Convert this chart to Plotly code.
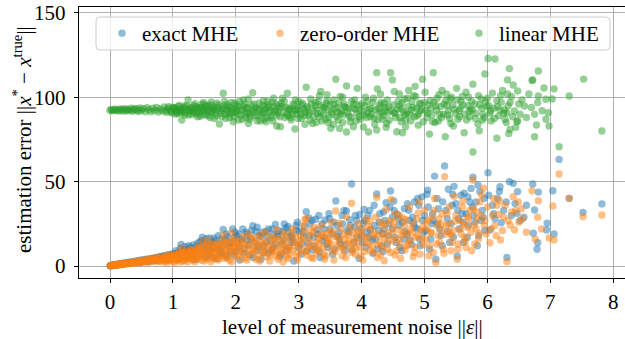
import plotly.graph_objects as go

# ---- data (noise level ||eps||, estimation error) ----
exact_pts = [
    (0.0,0.2),(0.02,0.3),(0.04,0.5),(0.06,0.4),(0.08,0.8),(0.1,0.6),(0.12,1.0),(0.14,0.9),(0.16,1.2),(0.18,1.1),
    (0.2,1.5),(0.22,1.3),(0.25,1.8),(0.28,1.6),(0.3,2.2),(0.33,1.9),(0.36,2.5),(0.4,2.1),(0.42,3.0),(0.45,2.6),
    (0.48,3.4),(0.5,2.4),(0.53,3.8),(0.56,3.1),(0.6,4.1),(0.63,3.3),(0.66,4.5),(0.7,3.6),(0.73,5.0),(0.76,4.0),
    (0.8,5.6),(0.83,4.2),(0.86,6.0),(0.9,4.8),(0.93,6.5),(0.96,5.2),(1.0,7.0),(1.03,5.5),(1.06,7.6),(1.1,4.3),
    (1.13,12.8),(1.15,8.2),(1.18,6.0),(1.2,9.3),(1.23,5.1),(1.26,10.0),(1.3,7.5),(1.33,3.8),(1.36,11.0),(1.4,8.4),
    (1.43,14.5),(1.47,17.0),(1.5,9.8),(1.52,5.0),(1.55,12.5),(1.58,16.6),(1.6,7.2),(1.63,14.0),(1.66,10.8),(1.7,4.5),
    (1.73,13.0),(1.76,9.0),(1.8,21.7),(1.83,15.5),(1.86,6.0),(1.9,11.8),(1.95,21.9),(1.98,17.0),(2.0,8.5),(2.03,13.5),
    (2.06,3.5),(2.1,16.0),(2.14,10.0),(2.18,19.0),(2.22,6.5),(2.27,23.9),(2.3,14.0),(2.33,9.0),(2.37,18.0),(2.4,4.0),
    (2.44,12.0),(2.48,20.5),(2.52,7.5),(2.56,15.0),(2.6,10.5),(2.63,24.7),(2.66,17.5),(2.7,5.5),(2.74,13.0),(2.77,24.9),
    (2.8,9.0),(2.84,19.5),(2.88,15.0),(2.92,3.0),(2.96,21.0),(3.0,11.0),(3.04,7.0),(3.08,17.0),(3.12,32.2),(3.15,13.5),
    (3.18,25.0),(3.22,9.5),(3.27,27.7),(3.3,19.0),(3.34,5.0),(3.38,15.0),(3.42,27.3),(3.46,11.0),(3.5,22.0),(3.54,7.0),
    (3.59,38.5),(3.62,17.5),(3.66,13.0),(3.7,25.0),(3.74,9.0),(3.76,32.6),(3.8,20.0),(3.84,48.6),(3.88,14.0),(3.92,27.0),
    (3.96,4.5),(4.0,18.0),(4.03,25.7),(4.07,11.0),(4.1,30.0),(4.14,21.5),(4.18,7.5),(4.22,16.0),(4.24,42.7),(4.28,26.0),
    (4.32,12.0),(4.34,8.5),(4.36,22.0),(4.39,37.5),(4.42,18.0),(4.46,44.5),(4.49,29.0),(4.52,32.8),(4.55,14.0),(4.6,24.0),
    (4.64,9.0),(4.68,34.0),(4.72,19.0),(4.76,27.0),(4.8,12.5),(4.84,38.0),(4.88,22.0),(4.92,16.0),(4.96,41.0),(5.0,30.0),
    (5.04,42.5),(5.08,10.0),(5.12,25.0),(5.16,53.3),(5.18,4.0),(5.22,34.0),(5.26,18.0),(5.32,59.3),(5.36,28.0),(5.4,14.0),
    (5.44,36.0),(5.47,47.2),(5.52,5.9),(5.55,22.0),(5.6,31.0),(5.63,43.2),(5.68,17.0),(5.72,38.0),(5.77,52.6),(5.8,26.0),
    (5.84,12.0),(5.88,44.1),(5.92,33.0),(5.96,21.0),(6.01,55.3),(6.04,21.3),(6.08,36.0),(6.12,28.0),(6.16,40.0),(6.19,44.2),
    (6.22,25.7),(6.26,33.0),(6.31,5.1),(6.35,50.0),(6.41,49.0),(6.44,37.0),(6.48,44.1),(6.47,31.2),(6.52,27.0),(6.58,28.9),
    (6.62,36.0),(6.72,48.6),(6.73,19.4),(6.75,33.2),(6.79,9.9),(6.8,13.8),(6.81,43.8),(6.94,21.3),(6.95,25.3),(7.04,44.6),
    (7.06,19.0),(7.14,63.2),(7.3,40.1),(7.52,31.8),(7.82,36.8),
    (0.01,0.1),(0.03,0.4),(0.05,0.3),(0.07,0.7),(0.09,0.5),(0.11,0.9),(0.13,0.8),(0.15,1.1),(0.17,1.3),(0.19,1.0),
    (0.21,1.6),(0.24,1.4),(0.27,2.0),(0.31,1.7),(0.35,2.4),(0.39,2.2),(0.44,2.9),(0.47,2.1),(0.51,3.3),(0.55,2.8),
    (0.58,4.0),(0.62,2.6),(0.65,4.4),(0.69,3.0),(0.72,4.9),(0.75,3.4),(0.79,5.3),(0.82,3.8),(0.85,5.9),(0.88,3.2),
    (0.92,6.4),(0.95,4.0),(0.98,7.0),
    (1.01,5.0),(1.04,7.5),(1.08,4.0),(1.11,8.5),(1.14,6.0),(1.17,9.5),(1.21,4.5),(1.24,8.0),(1.28,11.0),(1.31,6.0),
    (1.35,9.5),(1.38,4.0),(1.41,12.0),(1.45,7.0),(1.48,10.5),(1.51,14.0),(1.54,6.0),(1.57,9.0),(1.6,12.5),(1.64,5.0),
    (1.67,15.0),(1.7,10.0),(1.74,7.5),(1.77,16.0),(1.8,12.0),(1.84,5.5),(1.87,17.5),(1.91,9.0),(1.94,13.5),(1.97,6.5),
    (2.01,18.0),(2.05,11.0),(2.08,15.5),(2.12,7.5),(2.16,20.0),(2.2,12.5),(2.24,16.5),(2.28,5.0),(2.32,20.5),(2.36,11.5),
    (2.4,17.5),(2.44,8.0),(2.48,14.0),(2.52,22.0),(2.56,9.5),(2.6,18.5),(2.64,13.0),(2.68,21.0),(2.72,7.0),(2.76,16.0),
    (2.8,22.5),(2.84,11.0),(2.88,18.0),(2.92,14.0),(2.96,24.0),
    (3.01,20.5),(3.05,13.0),(3.09,23.5),(3.13,9.0),(3.17,18.0),(3.21,27.0),(3.25,12.0),(3.29,21.5),(3.33,8.5),(3.37,25.0),
    (3.41,17.0),(3.45,13.0),(3.49,28.0),(3.53,19.0),(3.57,10.0),(3.61,24.0),(3.65,16.0),(3.69,30.0),(3.73,12.5),(3.77,21.0),
    (3.81,27.5),(3.85,9.5),(3.89,23.0),(3.93,17.0),(3.97,30.5),
    (4.01,14.0),(4.05,27.0),(4.09,20.0),(4.13,33.0),(4.17,15.5),(4.21,24.0),(4.25,10.0),(4.29,31.0),(4.33,19.0),(4.37,27.0),
    (4.41,13.0),(4.45,35.0),(4.49,22.0),(4.53,17.0),(4.57,30.5),(4.61,11.0),(4.65,26.0),(4.69,20.5),(4.73,37.0),(4.77,15.5),
    (4.81,29.0),(4.85,23.0),(4.89,40.0),(4.93,12.0),(4.97,27.0),
    (5.02,21.0),(5.06,35.0),(5.1,16.0),(5.14,27.0),(5.2,40.0),(5.24,22.0),(5.28,12.0),(5.34,33.0),(5.38,45.5),(5.42,25.0),
    (5.46,17.0),(5.5,37.0),(5.54,28.0),(5.58,42.0),(5.62,14.0),(5.66,31.0),(5.7,24.0),(5.74,46.0),(5.78,30.0),(5.82,38.0),
    (5.86,18.0),(5.9,27.0),(5.95,40.0),
    (1.05,9.0),(1.12,10.5),(1.19,11.5),(1.25,12.0),(1.32,12.5),(1.39,13.5),(1.46,15.0),(1.53,16.0),(1.6,10.0),(1.65,16.5),
    (1.72,18.0),(1.78,8.0),(1.85,19.0),(1.9,14.0),(1.99,20.0),(2.04,19.0),(2.11,22.0),(2.19,15.5),(2.25,21.0),(2.34,23.0),
    (2.42,20.0),(2.5,18.0),(2.58,22.0),(2.67,19.0),(2.75,20.5),(2.83,23.5),(2.9,17.0),(2.98,26.0),(3.07,20.0),(3.16,28.5),
    (3.24,17.0),(3.32,30.0),(3.4,22.0),(3.48,31.0),(3.56,26.0),(3.64,20.0),(3.72,33.0),(3.82,24.0),(3.9,30.0),(3.99,22.0),
    (4.04,33.5),(4.12,17.0),(4.2,36.0),(4.27,21.0),(4.35,32.0),(4.43,25.0),(4.51,38.5),(4.59,28.0),(4.67,16.0),(4.75,33.0),
    (4.83,25.5),(4.91,36.0),(4.99,20.0),(5.05,45.0),(5.13,31.0),(5.21,25.0),(5.29,38.0),(5.37,20.5),(5.45,42.5),(5.53,33.0),
    (5.61,26.0),(5.69,41.0),(5.76,35.0),(5.85,48.0),(5.93,29.0),(6.02,42.0),(6.1,31.0),(6.2,47.0),(6.3,38.0),(6.38,30.0),
]

zero_order_pts = [
    (0.0,0.1),(0.01,0.3),(0.03,0.2),(0.05,0.5),(0.07,0.4),(0.09,0.7),(0.11,0.5),(0.13,0.9),(0.15,0.8),(0.17,1.1),
    (0.19,0.9),(0.21,1.3),(0.24,1.1),(0.26,1.6),(0.29,1.4),(0.31,2.0),(0.34,1.6),(0.37,2.3),(0.39,1.8),(0.41,2.7),
    (0.44,2.2),(0.47,3.0),(0.49,2.0),(0.52,3.4),(0.55,2.6),(0.58,3.8),(0.61,2.9),(0.64,4.2),(0.67,3.2),(0.69,4.6),
    (0.72,3.5),(0.75,5.0),(0.78,3.0),(0.81,5.4),(0.84,4.0),(0.87,5.8),(0.89,3.5),(0.92,6.2),(0.95,4.4),(0.98,6.6),
    (1.01,3.0),(1.04,7.0),(1.07,5.0),(1.1,8.0),(1.12,2.5),(1.14,10.5),(1.17,6.5),(1.2,4.0),(1.22,8.8),(1.25,6.0),
    (1.28,10.0),(1.31,3.5),(1.34,9.0),(1.38,6.5),(1.41,12.0),(1.44,8.0),(1.47,14.5),(1.5,5.0),(1.53,11.0),(1.56,15.5),
    (1.59,7.5),(1.62,13.0),(1.65,4.0),(1.68,10.0),(1.71,14.0),(1.74,6.5),(1.78,12.0),(1.8,18.4),(1.84,9.0),(1.87,14.5),
    (1.9,3.5),(1.94,19.7),(1.97,11.5),(2.0,16.0),(2.04,7.0),(2.08,13.0),(2.12,17.5),(2.16,5.0),(2.2,19.0),(2.24,10.0),
    (2.28,15.0),(2.32,4.0),(2.35,12.5),(2.39,18.5),(2.43,8.0),(2.47,20.0),(2.5,14.0),(2.54,3.0),(2.58,11.0),(2.62,17.0),
    (2.65,21.5),(2.69,7.0),(2.73,14.5),(2.76,19.5),(2.8,10.0),(2.83,4.5),(2.87,16.0),(2.91,22.0),(2.95,12.0),(2.99,8.0),
    (3.03,18.0),(3.07,24.0),(3.1,27.7),(3.12,27.9),(3.16,14.0),(3.2,5.0),(3.24,20.0),(3.28,10.0),(3.32,16.5),(3.36,24.0),
    (3.4,7.0),(3.44,19.0),(3.48,13.0),(3.52,26.0),(3.56,3.5),(3.59,32.6),(3.63,17.0),(3.67,22.0),(3.71,9.5),(3.76,29.2),
    (3.8,15.0),(3.84,37.2),(3.87,20.0),(3.91,11.0),(3.95,25.0),(3.99,6.0),(4.03,17.5),(4.07,28.0),(4.11,13.0),(4.15,22.0),
    (4.19,8.0),(4.24,40.7),(4.27,18.0),(4.3,26.0),(4.33,11.0),(4.36,3.1),(4.39,33.6),(4.43,20.0),(4.47,39.5),(4.5,15.0),
    (4.52,26.3),(4.56,9.0),(4.6,30.0),(4.64,18.0),(4.68,24.0),(4.72,12.0),(4.76,35.0),(4.8,20.0),(4.84,8.0),(4.88,28.0),
    (4.92,38.0),(4.96,16.0),(5.0,33.0),(5.04,22.0),(5.08,12.0),(5.12,29.0),(5.16,40.0),(5.18,2.0),(5.22,18.0),(5.26,25.0),
    (5.3,10.0),(5.32,53.0),(5.36,31.0),(5.4,20.0),(5.44,14.0),(5.47,41.3),(5.52,4.0),(5.56,27.0),(5.6,35.0),(5.64,17.0),
    (5.68,23.0),(5.72,33.0),(5.77,51.0),(5.8,13.0),(5.84,28.0),(5.88,38.0),(5.94,46.1),(5.98,19.0),(6.04,13.8),(6.08,30.0),
    (6.12,24.0),(6.15,36.0),(6.19,38.9),(6.21,15.4),(6.26,29.0),(6.31,2.6),(6.36,24.3),(6.41,41.1),(6.45,33.0),(6.5,26.0),
    (6.56,28.0),(6.62,20.0),(6.71,44.6),(6.76,16.0),(6.8,28.9),(6.81,38.7),(6.86,22.0),(6.98,16.6),(7.04,35.6),(7.06,15.4),
    (7.14,54.5),(7.3,40.1),(7.52,29.2),(7.82,30.2),
    (0.02,0.2),(0.04,0.4),(0.06,0.6),(0.08,0.5),(0.1,0.8),(0.12,0.7),(0.14,1.0),(0.16,1.2),(0.18,1.0),(0.2,1.4),
    (0.23,1.2),(0.27,1.8),(0.32,1.5),(0.35,2.2),(0.38,2.0),(0.43,2.5),(0.46,1.9),(0.5,3.0),(0.54,2.3),(0.57,3.5),
    (0.6,2.0),(0.63,3.9),(0.66,2.7),(0.7,4.2),(0.74,2.5),(0.77,4.6),(0.8,3.3),(0.85,5.0),(0.88,2.8),(0.91,5.5),
    (0.94,3.6),(0.97,6.0),(0.99,4.8),
    (1.02,6.0),(1.05,3.5),(1.09,7.0),(1.13,5.5),(1.16,8.5),(1.19,3.0),(1.23,7.0),(1.27,5.0),(1.3,9.0),(1.33,6.8),
    (1.36,4.5),(1.39,10.5),(1.42,6.0),(1.46,9.5),(1.49,3.0),(1.52,8.0),(1.55,13.0),(1.58,5.5),(1.61,10.0),(1.64,7.0),
    (1.67,12.5),(1.7,8.5),(1.73,4.5),(1.77,11.0),(1.8,7.0),(1.83,13.5),(1.86,5.0),(1.89,9.5),(1.92,15.0),(1.96,7.5),
    (1.99,12.0),
    (2.02,10.0),(2.05,14.5),(2.09,4.0),(2.13,9.0),(2.17,12.5),(2.21,7.0),(2.25,16.5),(2.29,9.5),(2.33,13.5),(2.37,6.0),
    (2.41,15.5),(2.45,11.0),(2.49,5.5),(2.53,17.5),(2.57,8.5),(2.61,13.0),(2.64,6.0),(2.68,16.0),(2.72,10.0),(2.75,2.5),
    (2.79,18.0),(2.82,12.0),(2.86,7.0),(2.89,20.0),(2.93,14.0),(2.97,5.5),
    (3.01,14.5),(3.05,9.0),(3.09,20.5),(3.13,6.5),(3.17,17.0),(3.21,11.5),(3.25,23.0),(3.29,7.5),(3.33,13.0),(3.37,19.0),
    (3.41,4.0),(3.45,15.5),(3.49,21.0),(3.53,9.0),(3.57,17.5),(3.61,12.0),(3.65,25.5),(3.69,6.0),(3.73,19.0),(3.77,13.0),
    (3.81,23.0),(3.85,8.0),(3.89,16.5),(3.93,20.5),(3.97,11.0),
    (4.01,22.0),(4.05,8.5),(4.09,17.0),(4.13,26.5),(4.17,12.0),(4.21,19.5),(4.25,5.0),(4.29,14.0),(4.33,23.5),(4.37,16.5),
    (4.41,10.0),(4.45,27.0),(4.49,18.5),(4.53,6.5),(4.57,21.5),(4.61,13.0),(4.65,28.5),(4.69,9.5),(4.73,19.0),(4.77,15.0),
    (4.81,25.0),(4.85,11.0),(4.89,18.0),(4.93,7.0),(4.97,23.0),
    (5.02,16.0),(5.06,27.0),(5.1,20.0),(5.14,8.0),(5.2,24.0),(5.24,14.0),(5.28,31.0),(5.34,19.0),(5.38,25.0),(5.42,9.0),
    (5.46,21.0),(5.5,30.0),(5.54,13.0),(5.58,19.0),(5.62,25.0),(5.66,11.0),(5.7,28.0),(5.74,20.0),(5.78,34.0),(5.82,22.0),
    (5.86,16.0),(5.9,30.0),(5.95,24.0),
    (0.82,2.5),(0.86,4.5),(0.9,2.0),(0.93,5.0),(0.96,3.0),(1.0,5.5),(1.03,2.0),(1.06,6.0),(1.08,3.5),(1.11,6.5),
    (1.15,3.0),(1.18,7.5),(1.21,5.5),(1.24,2.5),(1.26,8.0),(1.29,4.5),(1.32,7.0),(1.35,2.5),(1.37,8.5),(1.4,5.0),
    (1.43,10.0),(1.45,3.5),(1.48,7.0),(1.51,11.5),(1.54,4.0),(1.57,8.5),(1.6,2.5),(1.63,10.5),(1.66,6.0),(1.69,12.0),
    (1.72,3.5),(1.75,9.0),(1.79,14.5),(1.82,4.5),(1.85,10.5),(1.88,7.0),(1.91,12.5),(1.93,2.5),(1.95,9.0),(1.98,14.0),
    (2.01,5.5),(2.06,11.5),(2.1,8.5),(2.14,14.0),(2.18,3.5),(2.23,12.0),(2.27,7.5),(2.31,17.0),(2.34,10.0),(2.38,3.0),
    (2.42,13.0),(2.46,8.5),(2.51,11.5),(2.55,6.5),(2.59,15.5),(2.63,9.0),(2.67,4.0),(2.71,12.0),(2.74,8.0),(2.78,15.0),
    (2.81,6.0),(2.85,11.0),(2.9,9.0),(2.94,17.5),(2.98,3.5),(3.02,12.5),(3.06,16.0),(3.11,8.5),(3.15,11.0),(3.19,21.0),
    (3.23,4.5),(3.27,14.0),(3.31,9.5),(3.35,18.0),(3.39,11.0),(3.43,6.0),(3.47,16.5),(3.51,13.5),(3.55,20.0),(3.58,8.5),
    (3.64,14.5),(3.68,11.0),(3.72,16.0),(3.75,5.0),(3.79,18.5),(3.83,10.5),(3.86,13.5),(3.9,7.0),(3.94,15.0),(3.98,19.5),
    (4.02,3.5),(4.06,14.0),(4.1,24.0),(4.14,9.0),(4.18,18.0),(4.22,29.0),(4.26,12.5),(4.3,6.5),(4.34,19.0),(4.38,25.0),
    (4.42,14.5),(4.46,8.0),(4.5,23.0),(4.54,31.0),(4.58,16.0),(4.62,4.5),(4.66,20.0),(4.7,27.5),(4.74,13.0),(4.78,22.0),
    (4.82,5.5),(4.86,17.0),(4.9,31.5),(4.94,21.0),(4.98,12.5),(5.03,26.0),(5.07,6.0),(5.11,19.5),(5.15,33.0),(5.19,13.0),
    (5.23,28.0),(5.27,21.5),(5.31,7.5),(5.35,24.0),(5.39,35.0),(5.43,18.0),(5.48,26.5),(5.53,10.0),(5.57,22.0),(5.61,38.5),
    (5.65,15.0),(5.69,29.0),(5.75,9.0),(5.79,24.0),(5.83,32.0),(5.87,19.5),(5.91,42.0),(5.96,27.0),(6.0,35.0),(6.06,22.0),
    (6.1,40.0),(6.14,18.0),(6.18,30.5),(6.24,21.0),(6.28,36.0),(6.33,27.0),(6.39,32.0),(6.43,21.5),(6.49,38.0),(6.54,34.0),
]

linear_pts = [
    (0.0,92.3),(0.02,92.8),(0.04,92.0),(0.06,92.5),(0.08,93.0),(0.1,92.2),(0.12,92.7),(0.14,91.9),(0.16,93.1),(0.18,92.4),
    (0.2,92.9),(0.22,91.8),(0.24,93.3),(0.26,92.5),(0.28,92.0),(0.3,93.0),(0.32,92.3),(0.34,93.5),(0.36,91.7),(0.38,92.8),
    (0.4,93.4),(0.42,92.1),(0.44,93.0),(0.46,91.6),(0.48,93.7),(0.5,92.4),(0.53,93.2),(0.56,91.5),(0.59,93.9),(0.62,92.6),
    (0.65,91.4),(0.68,93.5),(0.71,92.2),(0.74,94.0),(0.77,91.3),(0.8,93.1),(0.83,92.0),(0.86,94.3),(0.89,91.1),(0.92,93.6),
    (0.95,92.5),(0.98,90.8),(1.0,94.2),(1.03,92.7),(1.06,91.0),(1.09,94.6),(1.12,92.0),(1.14,86.5),(1.17,93.8),(1.2,90.5),
    (1.24,98.4),(1.27,92.5),(1.3,89.8),(1.33,95.0),(1.36,91.5),(1.4,93.8),(1.43,88.8),(1.46,96.0),(1.5,91.8),(1.53,94.5),
    (1.56,89.0),(1.6,95.5),(1.63,92.2),(1.66,87.5),(1.7,96.5),(1.74,84.2),(1.77,93.0),(1.8,102.4),(1.83,90.0),(1.86,95.8),
    (1.9,88.0),(1.93,97.0),(1.96,85.5),(2.0,93.5),(2.03,90.5),(2.06,97.5),(2.1,87.0),(2.13,94.5),(2.17,91.0),(2.2,99.0),
    (2.23,88.5),(2.27,102.7),(2.3,93.0),(2.34,86.0),(2.37,96.5),(2.4,90.0),(2.44,98.0),(2.48,85.5),(2.51,93.8),(2.55,89.0),
    (2.58,97.0),(2.62,91.5),(2.65,83.0),(2.68,95.0),(2.71,82.6),(2.74,99.5),(2.78,88.0),(2.82,102.4),(2.85,92.5),(2.88,86.5),
    (2.91,96.0),(2.94,81.2),(2.97,90.0),(3.0,97.5),(3.04,87.5),(3.08,93.0),(3.12,106.0),(3.15,89.5),(3.19,99.0),(3.22,84.5),
    (3.26,95.0),(3.3,90.5),(3.33,101.0),(3.37,86.0),(3.41,94.0),(3.45,98.0),(3.48,88.0),(3.51,81.6),(3.55,96.0),(3.59,110.7),
    (3.62,91.0),(3.66,100.5),(3.7,85.0),(3.73,94.5),(3.76,79.4),(3.76,106.7),(3.8,89.0),(3.84,97.5),(3.87,82.6),(3.9,93.0),
    (3.93,105.3),(3.96,88.5),(4.0,96.0),(4.03,82.4),(4.06,100.0),(4.1,91.0),(4.11,79.4),(4.14,88.5),(4.18,97.0),(4.21,84.0),
    (4.24,114.6),(4.24,80.6),(4.27,93.5),(4.3,102.0),(4.33,87.0),(4.36,96.5),(4.39,82.2),(4.42,91.0),(4.46,114.6),(4.49,110.3),
    (4.52,103.4),(4.54,88.0),(4.56,79.6),(4.6,95.0),(4.63,85.5),(4.65,79.0),(4.68,99.0),(4.72,90.5),(4.75,104.0),(4.78,86.0),
    (4.82,94.0),(4.86,100.5),(4.9,83.5),(4.93,92.0),(4.97,110.7),(5.0,97.0),(5.04,88.0),(5.08,78.2),(5.1,93.5),(5.14,114.6),
    (5.17,85.0),(5.2,99.5),(5.24,90.0),(5.28,104.0),(5.33,76.6),(5.36,95.0),(5.4,87.5),(5.43,100.0),(5.46,83.0),(5.51,105.3),
    (5.55,92.0),(5.58,97.5),(5.63,79.0),(5.67,86.5),(5.7,100.0),(5.73,93.0),(5.77,107.8),(5.77,67.6),(5.8,96.0),(5.85,84.2),
    (5.87,80.2),(5.9,99.0),(5.93,90.0),(5.96,113.8),(5.99,94.5),(6.01,123.0),(6.04,90.5),(6.08,102.5),(6.12,122.7),(6.15,75.7),
    (6.15,98.0),(6.2,92.5),(6.24,104.0),(6.28,87.0),(6.32,110.3),(6.32,102.0),(6.31,90.9),(6.34,78.6),(6.35,117.0),(6.36,96.9),
    (6.36,81.0),(6.41,107.3),(6.43,91.9),(6.45,82.2),(6.47,85.5),(6.48,103.7),(6.48,86.0),(6.59,94.8),(6.71,110.0),(6.72,110.3),
    (6.75,89.9),(6.75,76.6),(6.78,83.6),(6.8,96.9),(6.81,100.8),(6.81,115.6),(6.93,98.8),(6.93,87.0),(6.97,90.9),(6.98,83.0),
    (7.03,99.0),(7.06,105.0),(7.14,70.7),(7.3,100.8),(7.53,110.8),(7.82,80.0),
    (1.01,93.5),(1.05,92.0),(1.08,90.5),(1.11,93.0),(1.15,91.5),(1.18,94.8),(1.21,92.8),(1.25,89.5),(1.28,94.0),(1.31,92.0),
    (1.35,96.2),(1.38,90.2),(1.41,92.8),(1.45,93.5),(1.48,89.5),(1.51,95.5),(1.55,92.5),(1.58,91.0),(1.61,97.2),(1.65,93.2),
    (1.68,90.5),(1.71,94.0),(1.75,92.0),(1.78,88.5),(1.81,95.0),(1.85,92.8),(1.88,90.8),(1.91,94.2),(1.95,91.5),(1.98,96.5),
    (2.01,92.0),(2.04,94.5),(2.07,89.5),(2.11,92.8),(2.14,96.0),(2.16,88.0),(2.19,93.5),(2.21,90.5),(2.25,95.5),(2.28,91.0),
    (2.32,93.8),(2.35,89.0),(2.38,92.5),(2.42,95.0),(2.45,90.5),(2.47,93.0),(2.5,97.5),(2.53,91.5),(2.57,88.0),(2.6,94.5),
    (2.63,92.0),(2.66,89.5),(2.7,93.5),(2.72,96.5),(2.76,91.0),(2.8,94.0),(2.83,89.0),(2.86,92.8),(2.9,90.0),(2.93,95.0),
    (2.96,92.5),(2.99,87.5),(2.45,86.8),(2.6,99.5),(2.2,84.5),
    (3.02,92.0),(3.05,95.5),(3.09,89.0),(3.13,93.5),(3.17,91.0),(3.2,96.0),(3.24,88.5),(3.28,93.0),(3.31,97.5),(3.35,90.5),
    (3.39,94.0),(3.43,87.0),(3.46,92.5),(3.5,95.5),(3.53,90.0),(3.57,93.0),(3.6,88.5),(3.64,96.5),(3.68,92.0),(3.71,89.5),
    (3.75,94.0),(3.78,91.0),(3.82,85.5),(3.86,93.5),(3.89,98.5),(3.92,90.5),(3.95,95.0),(3.98,87.0),(3.35,103.5),(3.55,84.0),
    (3.7,100.0),(3.1,84.0),(3.45,101.5),(3.65,81.5),(3.28,85.0),
    (4.02,91.5),(4.05,95.0),(4.08,88.0),(4.12,93.0),(4.16,90.0),(4.19,99.5),(4.22,92.5),(4.26,87.0),(4.29,95.5),(4.32,91.0),
    (4.35,89.0),(4.38,94.0),(4.41,98.5),(4.44,86.5),(4.47,92.0),(4.5,95.5),(4.53,90.5),(4.57,93.0),(4.61,88.0),(4.64,96.5),
    (4.67,91.5),(4.7,86.5),(4.74,94.5),(4.77,90.0),(4.8,97.5),(4.84,88.5),(4.87,93.5),(4.91,90.0),(4.94,96.0),(4.98,85.5),
    (4.25,105.0),(4.6,102.0),(4.85,106.5),(4.4,84.5),(4.7,82.5),
    (5.02,92.0),(5.06,95.5),(5.12,89.5),(5.15,97.0),(5.19,92.5),(5.22,86.0),(5.26,94.5),(5.3,90.0),(5.34,98.0),(5.38,92.0),
    (5.42,84.5),(5.45,95.5),(5.49,90.5),(5.53,87.0),(5.57,93.5),(5.6,100.5),(5.64,90.0),(5.69,95.0),(5.72,88.5),(5.76,92.5),
    (5.82,90.5),(5.88,95.5),(5.92,86.5),(5.97,97.5),(5.35,102.0),
    (6.02,95.0),(6.06,86.0),(6.1,93.5),(6.18,89.0),(6.22,97.0),(6.27,92.5),(6.3,85.0),(6.38,100.5),(6.52,90.0),(6.55,98.5),
    (6.62,88.0),(6.66,102.0),(6.7,94.0),(6.87,92.0),(6.9,105.5),
    (0.9,92.0),(0.93,94.5),(0.97,91.2),(1.02,93.8),(1.04,90.0),(1.07,92.8),(1.1,95.2),(1.13,91.0),(1.16,93.0),(1.19,89.5),
    (1.22,95.0),(1.26,91.8),(1.29,93.6),(1.32,90.8),(1.34,92.5),(1.37,94.5),(1.39,88.5),(1.42,91.0),(1.44,94.0),(1.47,92.0),
    (1.49,97.0),(1.52,90.0),(1.54,92.8),(1.57,95.0),(1.59,88.0),(1.62,91.5),(1.64,94.0),(1.67,92.5),(1.69,89.0),(1.72,95.5),
    (1.76,90.5),(1.79,93.5),(1.82,97.5),(1.84,87.5),(1.87,92.0),(1.89,94.5),(1.92,90.0),(1.94,93.0),(1.97,88.5),(1.99,91.0),
    (2.02,95.5),(2.05,86.5),(2.08,92.5),(2.12,98.5),(2.15,90.0),(2.18,94.0),(2.22,87.0),(2.26,92.0),(2.29,96.0),(2.31,89.0),
    (2.36,93.0),(2.39,86.0),(2.43,91.0),(2.46,94.5),(2.49,88.0),(2.52,95.5),(2.56,92.5),(2.59,86.0),(2.64,96.0),(2.67,91.0),
    (2.7,88.5),(2.73,94.5),(2.77,97.5),(2.81,90.0),(2.84,93.5),(2.87,88.0),(2.92,92.0),(2.95,98.5),(2.98,93.5),(3.03,90.0),
    (3.06,96.5),(3.11,91.0),(3.14,94.5),(3.18,86.5),(3.23,92.0),(3.27,97.0),(3.32,88.5),(3.36,95.0),(3.4,90.0),(3.44,96.5),
    (3.47,85.0),(3.52,91.5),(3.56,98.5),(3.61,94.0),(3.63,86.5),(3.67,90.5),(3.72,96.0),(3.79,93.5),(3.83,88.0),(3.88,96.0),
    (3.91,86.0),(3.97,92.5),(4.04,89.5),(4.09,97.5),(4.15,93.5),(4.2,87.5),(4.28,91.0),(4.31,97.0),(4.37,92.0),(4.43,94.5),
    (4.52,91.0),(4.58,97.5),(4.63,93.0),(4.69,89.5),(4.73,99.5),(4.79,92.5),(4.83,101.0),(4.88,89.0),(4.92,96.5),(4.96,93.0),
    (5.01,103.0),(5.05,90.5),(5.09,98.0),(5.13,85.5),(5.18,95.0),(5.23,101.5),(5.27,88.0),(5.31,96.0),(5.37,89.5),(5.41,99.0),
    (5.47,93.0),(5.52,98.5),(5.56,88.5),(5.61,95.5),(5.66,103.0),(5.71,91.5),(5.75,97.5),(5.81,87.5),(5.86,101.0),(5.91,93.5),
    (5.95,88.0),(6.0,99.5),(6.05,92.0),(6.11,87.5),(6.16,94.5),(6.21,101.0),(6.26,90.5),(6.33,95.0),(6.4,88.5),(6.5,96.0),
]

series_names = ["exact MHE", "zero-order MHE", "linear MHE"]
series_colors = ["#1f77b4", "#ff7f0e", "#2ca02c"]
x_ticks = [0, 1, 2, 3, 4, 5, 6, 7, 8]
y_ticks = [0, 50, 100, 150]
x_title = "level of measurement noise ||<i>ε</i>||"
y_title = "estimation error ||<i>x</i><sup>*</sup> − <i>x</i><sup>true</sup>||"

FONT = "Liberation Serif, DejaVu Serif, serif"
FS = 21

# The page body margin is removed (post_script below), so figure pixel = reference pixel.
FIG_W, FIG_H = 625, 339
L, R, T, B = 79, FIG_W, 7, 278      # plot area in pixels
W, H = R - L, B - T

# axis calibration from the reference: x=0 at px 110, 62.9 px/unit; y=0 at py 266, 1.687 px/unit
def xval(px):
    return (px - 110) / 62.9

def yval(py):
    return (266 - py) / 1.687

def px_x(px):
    return (px - L) / W

def px_y(py):
    return (B - py) / H

x_range = [xval(L), xval(R)]
y_range = [yval(B), yval(T)]

fig = go.Figure()
legend_ids = ["legend", "legend2", "legend3"]
legend_marker_px = [123, 281, 480]
for name, color, pts, lid in zip(series_names, series_colors, [exact_pts, zero_order_pts, linear_pts], legend_ids):
    xs = [p[0] for p in pts]
    ys = [p[1] for p in pts]
    fig.add_trace(go.Scatter(
        x=xs, y=ys, mode="markers", name=name, legend=lid,
        marker=dict(color=color, size=7.4, opacity=0.5, line=dict(width=0)),
    ))

axis_common = dict(
    showgrid=True, gridcolor="#b0b0b0", gridwidth=1,
    showline=True, linecolor="black", linewidth=1.3,
    ticks="outside", ticklen=4, tickwidth=1, tickcolor="black",
    zeroline=False, automargin=False, ticklabeloverflow="allow",
    tickfont=dict(family=FONT, size=FS, color="black"),
)

legend_common = dict(
    orientation="h", xanchor="left", yanchor="middle", y=px_y(33.5),
    bgcolor="rgba(0,0,0,0)", borderwidth=0,
    font=dict(family=FONT, size=FS, color="black"),
)

# legend frame (rounded, semi-transparent white)
fx0, fx1, fy0, fy1 = px_x(96), px_x(610), px_y(50), px_y(17)
rx, ry = 4 / W, 4 / H
frame_path = (
    f"M {fx0+rx},{fy1} L {fx1-rx},{fy1} Q {fx1},{fy1} {fx1},{fy1-ry} "
    f"L {fx1},{fy0+ry} Q {fx1},{fy0} {fx1-rx},{fy0} "
    f"L {fx0+rx},{fy0} Q {fx0},{fy0} {fx0},{fy0+ry} "
    f"L {fx0},{fy1-ry} Q {fx0},{fy1} {fx0+rx},{fy1} Z"
)

layout_legends = {}
for lid, mpx in zip(legend_ids, legend_marker_px):
    layout_legends[lid] = dict(x=px_x(mpx - 21), **legend_common)

fig.update_layout(
    width=FIG_W, height=FIG_H,
    margin=dict(l=L, r=FIG_W - R, t=T, b=FIG_H - B, pad=0),
    plot_bgcolor="white", paper_bgcolor="white",
    font=dict(family=FONT, size=FS, color="black"),
    xaxis=dict(range=x_range, tickvals=x_ticks, mirror=True, **axis_common),
    yaxis=dict(range=y_range, tickvals=y_ticks, ticklabelstandoff=4, **axis_common),
    shapes=[dict(type="path", path=frame_path, xref="paper", yref="paper",
                 fillcolor="rgba(255,255,255,0.8)", line=dict(color="#cccccc", width=1),
                 layer="above")],
    annotations=[
        dict(text=x_title, xref="paper", yref="paper", x=px_x(352), y=px_y(327),
             xanchor="center", yanchor="middle", showarrow=False,
             font=dict(family=FONT, size=FS, color="black")),
        dict(text=y_title, xref="paper", yref="paper", x=px_x(22), y=px_y(140),
             xanchor="center", yanchor="middle", showarrow=False, textangle=-90,
             font=dict(family=FONT, size=FS, color="black")),
    ],
    showlegend=True,
    **layout_legends,
)

fig.write_html(
    "out.html",
    config={"displayModeBar": False, "staticPlot": True},
    post_script="document.body.style.margin='0';",
)
